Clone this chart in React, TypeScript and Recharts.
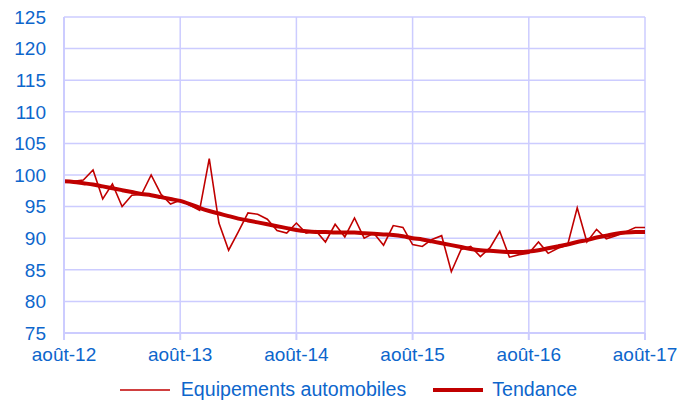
import React from 'react'
import {
  LineChart, Line, XAxis, YAxis, CartesianGrid, Legend,
} from 'recharts'

// monthly, août-12 .. août-17 (61 points)
const equipements = [
  99.0, 99.0, 99.2, 100.8, 96.2, 98.6, 95.0, 96.8, 96.9, 100.0,
  97.0, 95.4, 96.0, 95.2, 94.4, 102.6, 92.4, 88.1, 91.0, 94.0,
  93.8, 93.0, 91.2, 90.8, 92.4, 90.8, 91.2, 89.4, 92.2, 90.2,
  93.2, 90.0, 90.8, 88.9, 92.0, 91.7, 89.0, 88.7, 89.8, 90.4,
  84.7, 88.2, 88.7, 87.1, 88.5, 91.1, 87.0, 87.4, 87.6, 89.4,
  87.6, 88.4, 88.9, 94.8, 89.4, 91.4, 89.9, 90.4, 91.0, 91.7,
  91.7,
]
const tendance = [
  99.0, 98.9, 98.7, 98.5, 98.2, 97.9, 97.6, 97.3, 97.0, 96.8,
  96.5, 96.2, 95.9, 95.4, 94.8, 94.3, 93.9, 93.5, 93.1, 92.8,
  92.5, 92.2, 91.9, 91.6, 91.3, 91.1, 91.0, 91.0, 90.9, 90.9,
  90.9, 90.8, 90.7, 90.6, 90.5, 90.3, 90.0, 89.8, 89.5, 89.2,
  88.9, 88.6, 88.3, 88.1, 88.0, 87.9, 87.8, 87.8, 87.9, 88.1,
  88.4, 88.7, 89.0, 89.4, 89.7, 90.1, 90.4, 90.7, 90.9, 91.0,
  91.0,
]
const tickIdx = [0, 12, 24, 36, 48, 60]
const tickLabels = ['août-12', 'août-13', 'août-14', 'août-15', 'août-16', 'août-17']
const yTicks = [75, 80, 85, 90, 95, 100, 105, 110, 115, 120, 125]

const data = equipements.map((v, i) => ({ idx: i, equip: v, trend: tendance[i] }))

const FONT = '"Liberation Sans", Arial, sans-serif'
const BLUE = '#0d66cc'
const GRID = '#ccccff'
const RED = '#c00000'

function LegendContent() {
  const items = [
    { name: 'Equipements automobiles', w: 1.6 },
    { name: 'Tendance', w: 4 },
  ]
  return (
    <div style={{ display: 'flex', justifyContent: 'center', alignItems: 'center', fontFamily: FONT, fontSize: 19.6, color: BLUE }}>
      {items.map((it, k) => (
        <div key={it.name} style={{ display: 'flex', alignItems: 'center', marginLeft: k ? 27 : 0 }}>
          <svg width={50} height={10} style={{ marginRight: k ? 9 : 11 }}>
            <line x1={0} y1={5} x2={50} y2={5} stroke={RED} strokeWidth={it.w} />
          </svg>
          <span>{it.name}</span>
        </div>
      ))}
    </div>
  )
}

export default function App() {
  return (
    <div style={{ width: 697, height: 403, background: '#fff' }}>
      <style>{'body{margin:0}'}</style>
      <LineChart width={697} height={403} data={data} margin={{ top: 17, right: 52, bottom: 0, left: 0 }}>
        <CartesianGrid stroke={GRID} strokeWidth={1.5} />
        <XAxis
          dataKey="idx"
          type="number"
          domain={[0, 60]}
          ticks={tickIdx}
          tickFormatter={(v: number) => tickLabels[tickIdx.indexOf(v)] ?? ''}
          height={70}
          tickSize={7}
          tickMargin={8}
          axisLine={{ stroke: GRID, strokeWidth: 2 }}
          tickLine={{ stroke: GRID, strokeWidth: 2 }}
          tick={{ fill: BLUE, fontSize: 19, fontFamily: FONT }}
        />
        <YAxis
          domain={[75, 125]}
          ticks={yTicks}
          width={64}
          tickSize={0}
          tickMargin={18}
          tickLine={false}
          axisLine={{ stroke: GRID, strokeWidth: 2 }}
          tick={{ fill: BLUE, fontSize: 19, fontFamily: FONT }}
          interval={0}
        />
        <Legend
          verticalAlign="middle"
          layout="horizontal"
          content={() => <LegendContent />}
          wrapperStyle={{ top: 378, left: 0, width: 697, height: 26 }}
        />
        <Line
          dataKey="equip"
          name="Equipements automobiles"
          stroke={RED}
          strokeWidth={1.6}
          dot={false}
          isAnimationActive={false}
        />
        <Line
          dataKey="trend"
          name="Tendance"
          type="monotone"
          stroke={RED}
          strokeWidth={4}
          dot={false}
          isAnimationActive={false}
        />
      </LineChart>
    </div>
  )
}
